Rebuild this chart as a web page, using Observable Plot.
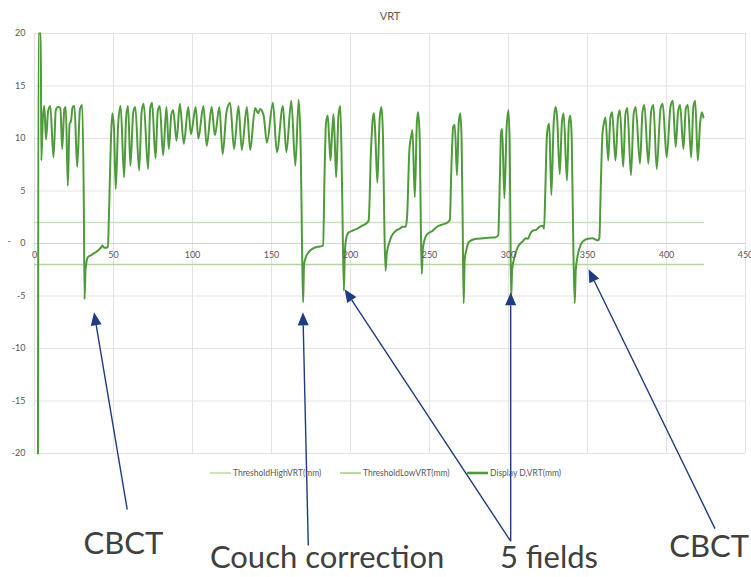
<!DOCTYPE html>
<html>
<head>
<meta charset="utf-8">
<script src="https://cdn.jsdelivr.net/npm/d3@7"></script>
<script src="https://cdn.jsdelivr.net/npm/@observablehq/plot@0.6"></script>
<style>
  html, body { margin: 0; padding: 0; background: #fff; }
  #chart { width: 751px; height: 577px; }
  svg { font-family: Lato, "Open Sans", sans-serif; }
</style>
</head>
<body>
<div id="chart"></div>
<script>
// Vertical couch displacement (VRT, mm) against time, one [t, mm] pair per sample.
const setupTrace = [
  [2.2,-20],[2.5,20],[4.0,20],[4.3,7.9],[5.3,12],[6.2,13.1],[7.3,9.9],[8.6,12.6],[10,13.1],
  [12,8.2],[13.5,12.7],[14.8,13],[16.4,12.9],[17.5,9],[18.9,12.8],[19.8,13],[21.1,5.5],
  [22.2,11.4],[23,11.6],[24.2,13],[25.3,13.1],[27,7.3],[28.8,12.8],[30.2,13.2],[31.2,4]
];
const cbctPause1 = [
  [31.7,-5.3],[32.3,-2.5],[33.8,-1.3],[36,-1.1],[38,-0.9],[40,-0.7],[42,-0.4],[43,-0.2],
  [44,-0.4],[46.5,-0.35]
];
const breathingFree = [
  [47,2],[48.2,9],[49.2,12.4],[50.3,11],[51.4,5.2],[53,11.5],[54.5,13.1],[56.7,6.3],[58,12],
  [59.2,13.1],[60.7,7.4],[62.5,12.5],[63.8,13],[66.2,6.95],[67.8,12.5],[69.1,13.3],[71.9,7.1],
  [73.2,12.8],[74.4,13.4],[76.6,8.1],[78,12.6],[79.3,13.1],[81.4,8.4],[83.5,13],[85,9],
  [86.6,12.3],[87.8,12.7],[89.9,9.8],[92,13.3],[94.5,9.5],[97.3,13],[99,10.4],[102,13],
  [103.7,10],[106.9,13.1],[109,9.3],[112.1,13],[114.2,10.3],[117,13],[119.1,8.5],[121.5,12.5],
  [123.8,13.4],[126.3,9],[129.1,13.1],[131.2,8.9],[134.4,13],[136.5,8.9],[139.6,12.9],
  [141.5,12.4],[142.8,12.8],[145,12.2],[147.1,9.6],[150.9,13.4],[153.4,8.7],[157.2,13.1],
  [159.4,8.7],[162.5,13.6],[165.1,7.4],[167.2,13.7],[168.5,9],[169.4,-1]
];
const couchCorrection = [
  [170,-5.6],[170.6,-2],[172,-1.2],[175,-0.6],[178,-0.35],[180,-0.3],[182.7,-0.2],[183.5,6],
  [184.5,11.5],[185.6,12.2],[186.5,10],[187.3,7.9],[188,9.5],[189.2,12.3],[190,10],[190.9,6.3],
  [192.4,12.2],[193.6,13.1],[194.8,4]
];
const fieldDelivery = [
  [195.8,-4.5],[196.4,-1],[197,0.2],[198.5,1],[201,1.2],[204,1.4],[207.4,1.7],[210.6,2],
  [211.5,2.2],[213,9],[214.2,12],[214.9,12.4],[215.8,10],[217,5.8],[218.5,12],[219.6,13],
  [220.6,10],[221.5,1],[222.2,-2.6],[222.9,-1],[224.4,0],[226,0.7],[228.6,1.2],[231,1.4],
  [233,1.6],[234.9,1.6],[235.8,2.5],[237.3,9],[238.8,10.5],[239.2,10.8],[240.7,4.4],[242,11.5],
  [242.8,12.5],[243.8,10],[244.5,2],[245.1,-2.9],[245.8,-0.5],[247.7,0.7],[249.5,1],[251.9,1.2],
  [254,1.5],[256,1.7],[258,1.8],[261.4,2],[262.9,2.3],[263.8,7],[265,11.1],[266,11.3],
  [267.4,6.5],[268.5,11.5],[269.5,12.4],[270.3,10],[271,2],[271.6,-5.7],[272.3,-1.5],
  [273.2,-0.7],[275.3,0.2],[279.5,0.45],[284,0.5],[288,0.55],[292.1,0.6],[293.5,0.8],[294.5,6],
  [295.3,10.6],[296,10.9],[297.4,4.3],[298.8,11],[300,12.7],[300.8,9],[301.3,0],[301.7,-5.1],
  [302.3,-2.5],[303.8,-1.3],[306,-0.3],[309,0.2],[311,0.5],[312.3,0.45],[314,1],[315.5,1.24],
  [317.5,1.3],[319.7,1.6],[321.8,1.7],[322.5,1.4],[323.3,5],[324.2,10],[325,11.1],[325.8,11.4],
  [327.1,4.6],[328.6,11.5],[329.8,13],[330.8,12],[332.4,6.6],[333.8,11.5],[334.9,12.4],[337,6],
  [338.2,11.5],[339.1,12.2],[340,10],[341,0]
];
const cbctPause2 = [
  [341.9,-5.7],[342.6,-2.5],[343.6,-1.3],[346.1,0],[348,0.3],[350.4,0.45],[353,0.5],[356.7,0.3],
  [357.5,0.5],[358.5,6],[359.5,10.5]
];
const breathingEnd = [
  [360.3,11.4],[361.4,12],[363.1,7.9],[364.5,12],[365.6,12.5],[367.7,7.9],[369.3,12],[370.5,12.7],
  [372.6,7.3],[374,12.3],[375.2,12.9],[377.5,6.5],[379.2,12.3],[380.5,13],[383.2,7.6],[384.8,12.5],
  [386,13.2],[388.5,7.6],[390.3,12.6],[391.7,13.2],[393.8,7.1],[396.2,12.8],[397.6,13.3],[400.1,8.2],
  [402.5,13],[404,13.6],[405.8,9.2],[407.3,12.5],[408.6,13.2],[410.7,9],[412.2,12.8],[413.5,13.2],
  [415.6,8.2],[417,13],[418.2,13.6],[419.8,7.9],[421.3,11.5],[422.4,12.5],[423.4,12]
];

// Tolerance band (mm) over the recorded time span
const thresholdTime = [0, 423.4];
const thresholdHigh = [2, 2];
const thresholdLow = [-2, -2];

const xTicks = [0, 50, 100, 150, 200, 250, 300, 350, 400, 450];
const yTicks = [-20, -15, -10, -5, 0, 5, 10, 15, 20];

const legendLabels = ["ThresholdHighVRT(mm)", "ThresholdLowVRT(mm)", "Display D,VRT(mm)"];

// Event callouts: label, where the label sits, and the events its arrows point at
const noteLabels = ["CBCT", "Couch correction", "5 fields", "CBCT"];
const noteAt = [[56.2, -28.6], [185.2, -30.0], [325.6, -30.0], [427.0, -28.9]];
const noteArrows = [
  // [label index, tail t, tail mm, head t, head mm]
  [0, 59.0, -25.4, 38.0, -6.6],
  [1, 173.6, -28.8, 170.2, -6.6],
  [2, 301.7, -28.4, 196.6, -4.4],
  [2, 301.7, -28.4, 301.7, -4.7],
  [3, 431.0, -27.2, 351.0, -2.5]
];

const trace = [...setupTrace, ...cbctPause1, ...breathingFree, ...couchCorrection,
  ...fieldDelivery, ...cbctPause2, ...breathingEnd].map(([t, v]) => ({t, v}));
const thresholds = thresholdTime.map((t, i) => ({t, high: thresholdHigh[i], low: thresholdLow[i]}));

const green = "#4f9b3b";
const paleHigh = "#c6e1b5";
const paleLow = "#b2d69c";
const grey = "#595959";
const navy = "#1f3c82";

const chart = Plot.plot({
  width: 751,
  height: 577,
  marginLeft: 34,
  marginRight: 6,
  marginTop: 33,
  marginBottom: 124,
  x: {domain: [0, 450], axis: null},
  y: {domain: [-20, 20], axis: null},
  marks: [
    Plot.ruleX(xTicks, {stroke: "#e3e3e3", strokeWidth: 1}),
    Plot.ruleY(yTicks, {stroke: "#e3e3e3", strokeWidth: 1}),
    Plot.ruleY([0], {stroke: "#d4d4d4", strokeWidth: 1}),
    Plot.line(thresholds, {x: "t", y: "high", stroke: paleHigh, strokeWidth: 1.4}),
    Plot.line(thresholds, {x: "t", y: "low", stroke: paleLow, strokeWidth: 1.4}),
    Plot.line(trace, {x: "t", y: "v", stroke: green, strokeWidth: 2, curve: "monotone-x"}),
    Plot.text(yTicks, {x: 0, y: d => d, dx: -9, textAnchor: "end", text: d => `${d}`, fontSize: 9, fill: grey}),
    Plot.text(xTicks, {x: d => d, y: 0, dy: 12, text: d => `${d}`, fontSize: 9, fill: grey}),
    Plot.text(["VRT"], {frameAnchor: "top", dy: -21, fontSize: 11, fill: grey}),
    Plot.text(["-"], {frameAnchor: "left", dx: -27, dy: -2, fontSize: 9, fill: grey}),
    Plot.text(noteLabels, {
      x: (d, i) => noteAt[i][0], y: (d, i) => noteAt[i][1], text: d => d,
      fontSize: 31, fill: "#404040", fontFamily: "Lato"
    })
  ]
});

document.getElementById("chart").append(chart);

const sx = chart.scale("x");
const sy = chart.scale("y");
const svg = d3.select(chart);

// Callout arrows with filled heads
const arrows = svg.append("g");
for (const [, t1, v1, t2, v2] of noteArrows) {
  const x1 = sx.apply(t1), y1 = sy.apply(v1), x2 = sx.apply(t2), y2 = sy.apply(v2);
  const a = Math.atan2(y2 - y1, x2 - x1);
  const len = 13, half = 5.5;
  const bx = x2 - len * Math.cos(a), by = y2 - len * Math.sin(a);
  arrows.append("line")
    .attr("x1", x1).attr("y1", y1).attr("x2", bx).attr("y2", by)
    .attr("stroke", navy).attr("stroke-width", 1.4);
  const px = -Math.sin(a), py = Math.cos(a);
  arrows.append("path")
    .attr("d", `M${x2},${y2}L${bx + half * px},${by + half * py}L${bx - half * px},${by - half * py}Z`)
    .attr("fill", navy);
}

// Series legend under the plot area
const legend = svg.append("g")
  .attr("font-size", 8.5)
  .attr("fill", grey)
  .attr("text-anchor", "start");
const legendX = [210, 340, 467];
const legendStroke = ["#bcdcaa", "#a9d18e", green];
const legendWidth = [1.6, 1.6, 2.6];
legendLabels.forEach((label, i) => {
  legend.append("line")
    .attr("x1", legendX[i]).attr("x2", legendX[i] + 21)
    .attr("y1", 473).attr("y2", 473)
    .attr("stroke", legendStroke[i]).attr("stroke-width", legendWidth[i]);
  legend.append("text")
    .attr("x", legendX[i] + 23).attr("y", 476)
    .text(label);
});
</script>
</body>
</html>
